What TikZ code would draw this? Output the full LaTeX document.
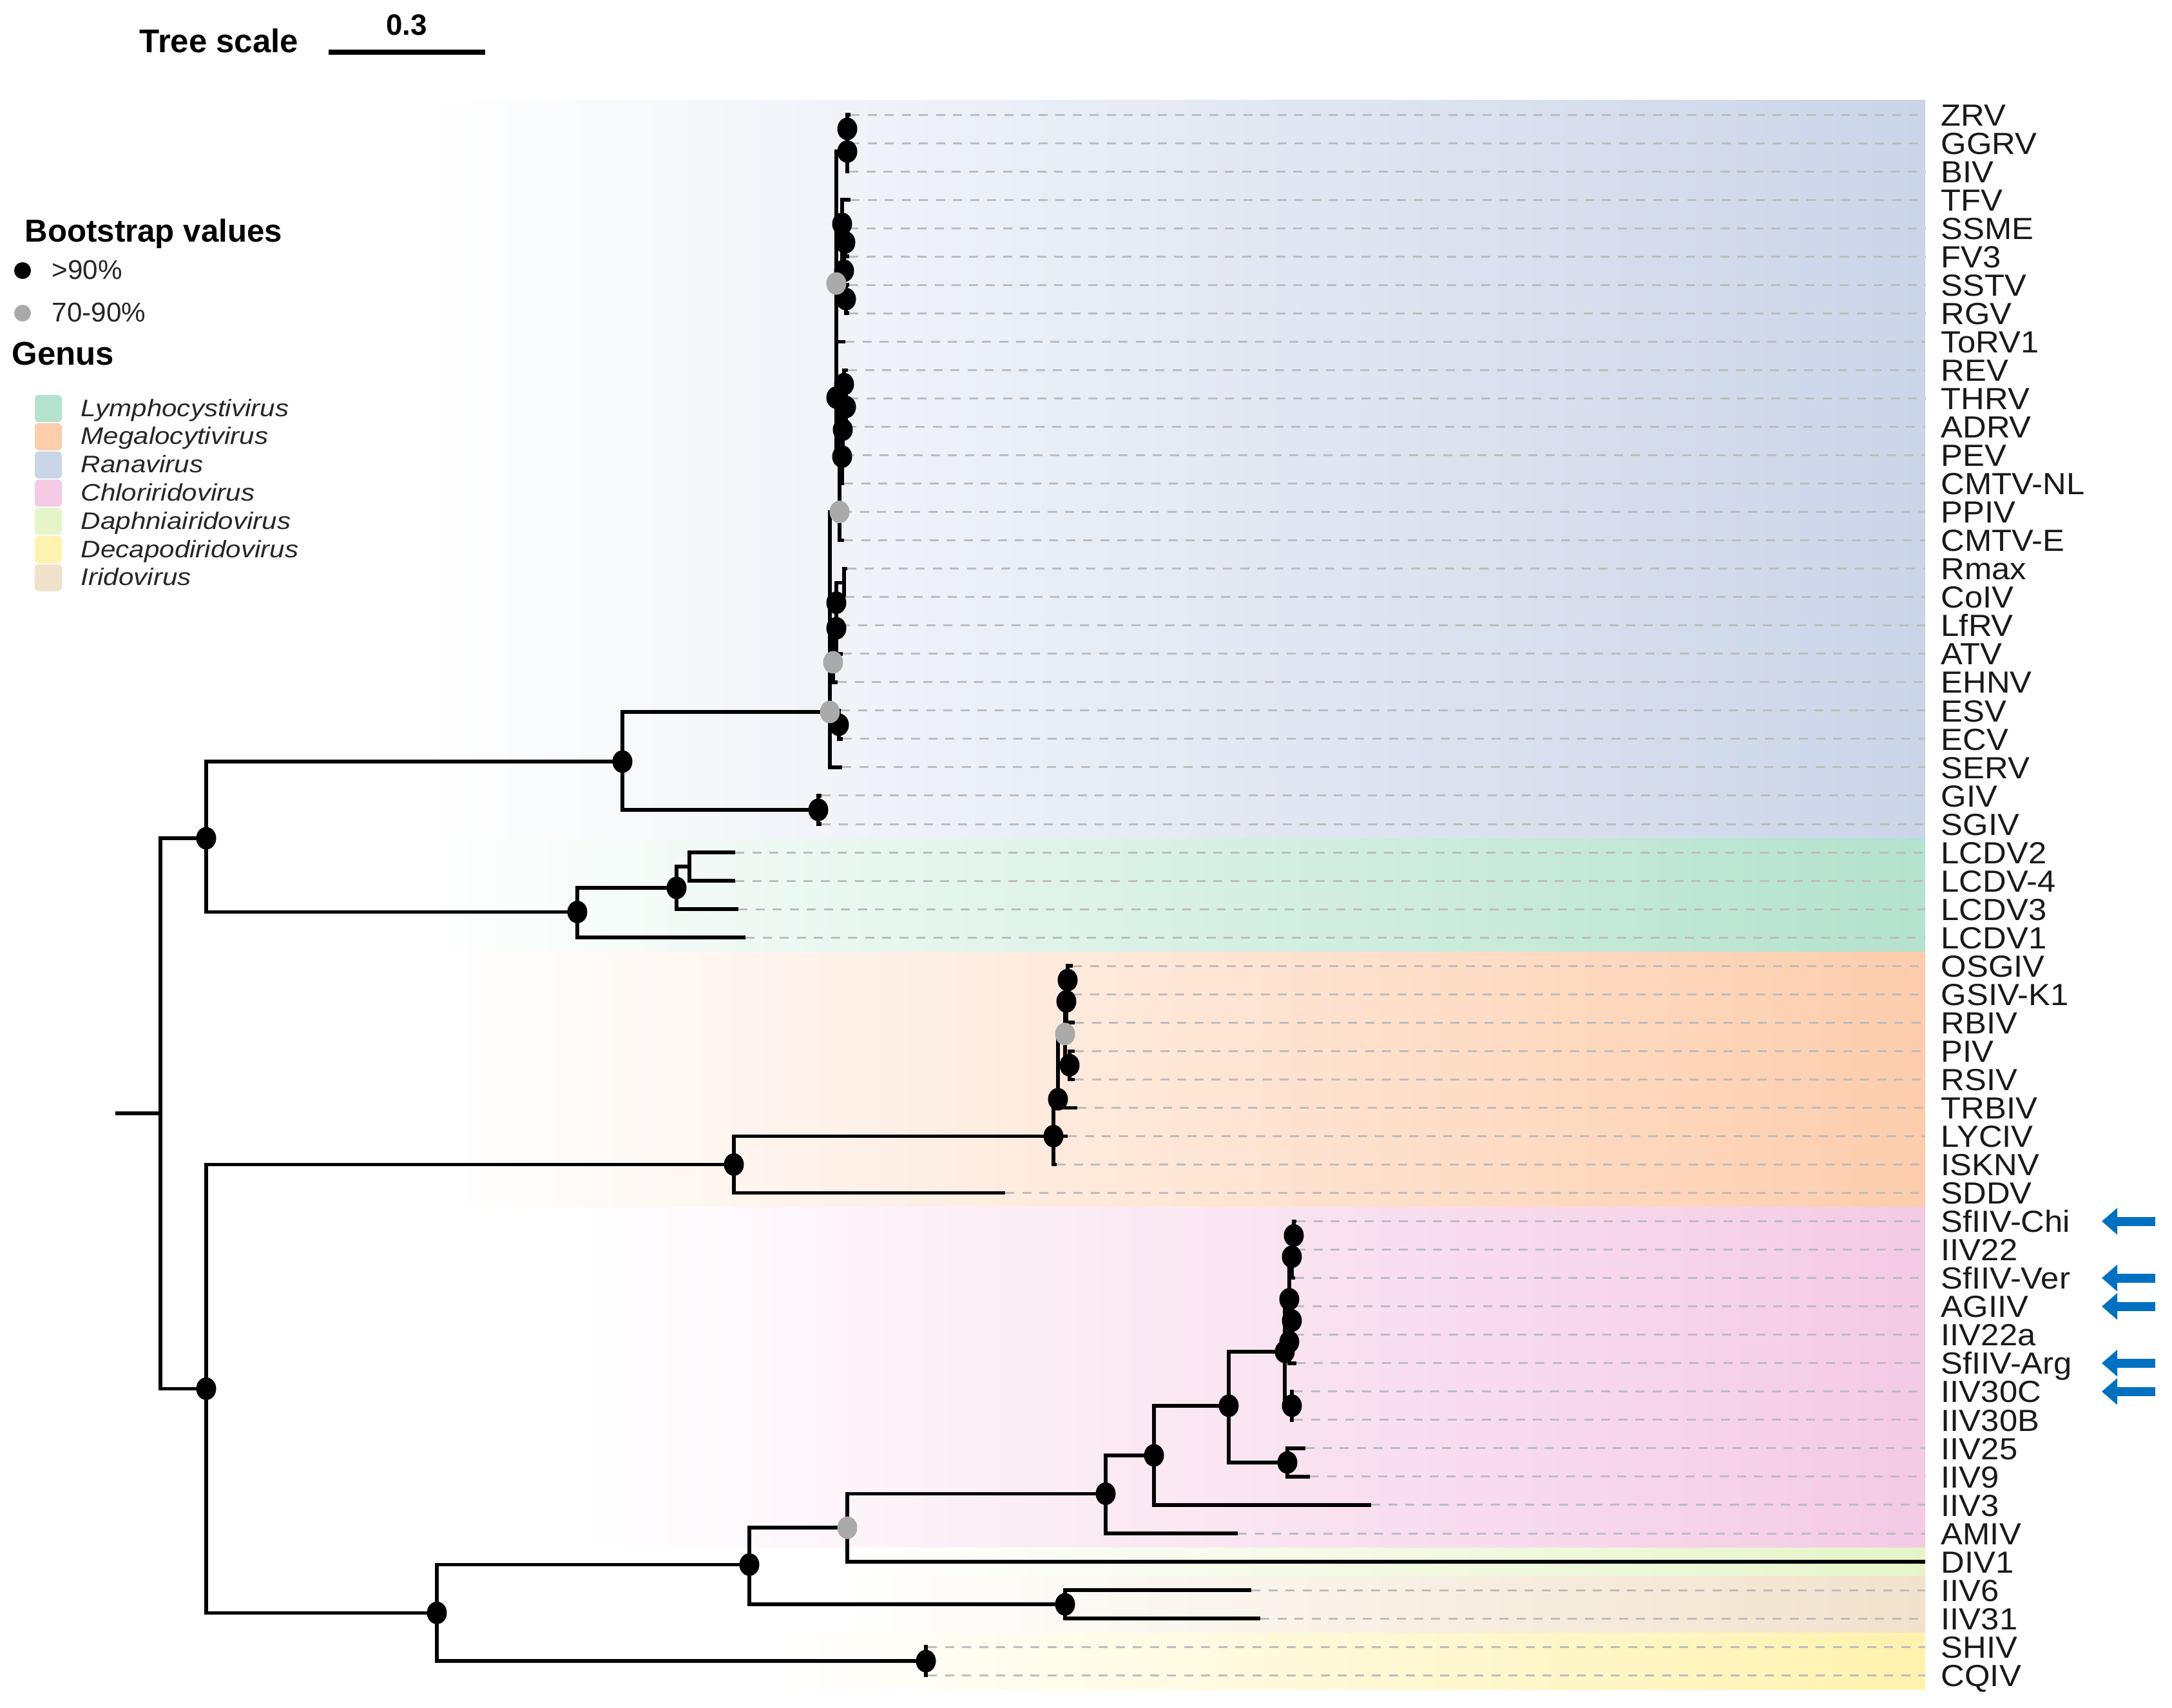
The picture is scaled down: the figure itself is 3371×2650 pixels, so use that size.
\documentclass[tikz,border=0pt]{standalone}
\usepackage{fontspec}
\setmainfont{Liberation Sans}
\usepackage{graphicx}
\usetikzlibrary{arrows.meta}

\definecolor{lymcol}{HTML}{B3E2CD}
\definecolor{megcol}{HTML}{FDCDAC}
\definecolor{rancol}{HTML}{CBD5E8}
\definecolor{chlcol}{HTML}{F4CAE4}
\definecolor{dapcol}{HTML}{E6F5C9}
\definecolor{deccol}{HTML}{FFF2AE}
\definecolor{iricol}{HTML}{F1E2CC}
\definecolor{bsgray}{HTML}{AAAAAA}
\definecolor{dashgray}{HTML}{BDBDBD}
\definecolor{markblue}{HTML}{0070C0}

\tikzset{
  branch/.style={black, line width=1.6pt},
  leafdash/.style={dashgray, line width=0.3mm, dash pattern=on 1.4mm off 1.25mm},
  leaflab/.style={anchor=base west, inner sep=0pt, font=\fontsize{13.5}{14}\selectfont, text=black!90},
  legtitle/.style={anchor=base west, inner sep=0pt, font=\bfseries\fontsize{14.5}{15}\selectfont},
  legitem/.style={anchor=base west, inner sep=0pt, font=\fontsize{12}{13}\selectfont, text=black!85},
  hibs/.style={fill=black},
  midbs/.style={fill=bsgray},
  markarrow/.style={markblue, line width=1.4mm, -{Triangle[length=2.4mm,width=4mm]}},
}

\begin{document}
\begin{tikzpicture}[x=0.1mm,y=-0.1mm]
\useasboundingbox (0,0) rectangle (3371,2650);

% tree scale
\node[legtitle] (scaletxt) at (216,81) {Tree scale};
\coordinate (barL) at (510,81);
\coordinate (barR) at (753,81);
\draw[line width=2.4pt] (barL) -- (barR);
\node[anchor=base, inner sep=0pt, font=\bfseries\fontsize{13}{14}\selectfont] (scaleval) at (631,54) {0.3};

% legend
\node[legtitle, font=\bfseries\fontsize{14}{15}\selectfont] (bstitle) at (38,375) {Bootstrap values};
\coordinate (bshi) at (35,420);
\coordinate (bsmid) at (35,486);
\fill[hibs] (bshi) circle[radius=1.3mm];
\fill[midbs] (bsmid) circle[radius=1.3mm];
\node[legitem] (bshitxt) at (80,433) {>90\%};
\node[legitem] (bsmidtxt) at (80,499) {70-90\%};
\node[legtitle] (genustitle) at (18,566) {Genus};
\foreach \col/\name [count=\k from 0] in {lymcol/Lymphocystivirus, megcol/Megalocytivirus,
    rancol/Ranavirus, chlcol/Chloriridovirus, dapcol/Daphniairidovirus,
    deccol/Decapodiridovirus, iricol/Iridovirus}{
  \pgfmathsetmacro\yc{634+43.8*\k}
  \fill[\col, rounded corners=0.6mm] (54,\yc-21) rectangle (96,\yc+21);
  \node[legitem, font=\itshape\fontsize{12}{13}\selectfont] (genus\k) at (125,\yc+12)
    {\scalebox{1}[0.88]{\name}};
}

\begin{scope}[y=-4.404mm, yshift=-17.8mm]
% genus bands
\shade[left color=white, right color=rancol] (650,-0.5) rectangle (2988,25.5);
\shade[left color=white, right color=lymcol] (650,25.5) rectangle (2988,29.5);
\shade[left color=white, right color=megcol] (700,29.5) rectangle (2988,38.5);
\shade[left color=white, right color=chlcol] (900,38.5) rectangle (2988,50.5);
\shade[left color=white, right color=dapcol] (1300,50.5) rectangle (2988,51.5);
\shade[left color=white, right color=iricol] (1300,51.5) rectangle (2988,53.5);
\shade[left color=white, right color=deccol] (1200,53.5) rectangle (2988,55.5);

% leaves
\foreach \i/\tx/\lab in {0/1320/ZRV, 1/1320/GGRV, 2/1318/BIV, 3/1320/TFV, 4/1318/SSME,
    5/1318/FV3, 6/1318/SSTV, 7/1318/RGV, 8/1312/ToRV1, 9/1316/REV, 10/1318/THRV,
    11/1315/ADRV, 12/1312/PEV, 13/1310/CMTV-NL, 14/1308/PPIV, 15/1310/CMTV-E,
    16/1315/Rmax, 17/1312/CoIV, 18/1305/LfRV, 19/1308/ATV, 20/1300/EHNV, 21/1305/ESV,
    22/1308/ECV, 23/1307/SERV, 24/1275/GIV, 25/1275/SGIV, 26/1141/LCDV2,
    27/1141/LCDV-4, 28/1146/LCDV3, 29/1157/LCDV1, 30/1665/OSGIV, 31/1665/GSIV-K1,
    32/1668/RBIV, 33/1668/PIV, 34/1668/RSIV, 35/1672/TRBIV, 36/1657/LYCIV,
    37/1640/ISKNV, 38/1560/SDDV, 39/2012/SfIIV-Chi, 40/2012/IIV22, 41/2010/SfIIV-Ver,
    42/2010/AGIIV, 43/2010/IIV22a, 44/2012/SfIIV-Arg, 45/2008/IIV30C, 46/2008/IIV30B,
    47/2026/IIV25, 48/2033/IIV9, 49/2128/IIV3, 50/1921/AMIV, 51/2988/DIV1,
    52/1942/IIV6, 53/1956/IIV31, 54/1440/SHIV, 55/1440/CQIV}{
  \coordinate (t\i) at (\tx,\i);
  \coordinate (e\i) at (2988,\i);
  \draw[leafdash] (t\i) -- (e\i);
  \node[leaflab] (lab\i) at (3012,{\i+0.39}) {\scalebox{1.07}[1]{\lab}};
}

% internal nodes
\coordinate (ra1) at (1315,0.5);
\coordinate (ra2) at (1315,1.3);
\coordinate (ra3) at (1312,4.5);
\coordinate (ra4) at (1313,6.5);
\coordinate (ra5) at (1310,5.5);
\coordinate (ra6) at (1307,3.85);
\coordinate (ra7) at (1298,5.95);
\coordinate (rb1) at (1310,9.5);
\coordinate (rb2) at (1313,10.3);
\coordinate (rb3) at (1308,11.1);
\coordinate (rb4) at (1307,12.05);
\coordinate (rc1) at (1298,9.97);
\coordinate (rc2) at (1303,14.0);
\coordinate (rd1) at (1310,16.5);
\coordinate (rd2) at (1298,17.2);
\coordinate (rd3) at (1298,18.1);
\coordinate (rd4) at (1293,19.3);
\coordinate (rd5) at (1302,21.5);
\coordinate (rcore) at (1288,21.05);
\coordinate (rgiv) at (1270,24.5);
\coordinate (rana) at (966,22.8);
\coordinate (lcd1) at (1070,26.5);
\coordinate (lcd2) at (1050,27.25);
\coordinate (lcd3) at (896,28.1);
\coordinate (upper) at (320,25.5);
\coordinate (mg1) at (1657,30.5);
\coordinate (mg2) at (1655,31.25);
\coordinate (mg3) at (1660,33.5);
\coordinate (mg4) at (1653,32.4);
\coordinate (mg5) at (1642,34.7);
\coordinate (mg6) at (1635,36.0);
\coordinate (mega) at (1139,37.0);
\coordinate (ch1) at (2008,39.5);
\coordinate (ch2) at (2005,40.25);
\coordinate (ch3) at (2005,42.5);
\coordinate (ch4) at (2001,43.25);
\coordinate (ch5) at (2001,41.75);
\coordinate (ch6) at (2005,45.5);
\coordinate (ch7) at (1994,43.6);
\coordinate (ch8) at (1998,47.5);
\coordinate (ch9) at (1907,45.5);
\coordinate (ch10) at (1791,47.25);
\coordinate (chlo) at (1716,48.6);
\coordinate (dip) at (1315,49.8);
\coordinate (iri) at (1653,52.5);
\coordinate (irid) at (1163,51.1);
\coordinate (dec) at (1437,54.5);
\coordinate (lowclade) at (678,52.8);
\coordinate (lower) at (320,44.9);
\coordinate (root) at (249,35.2);
\coordinate (stub) at (179,35.2);

% branches
\draw[branch] (stub) -- (root);
\foreach \parnode/\kid in {ra1/t0, ra1/t1, ra2/ra1, ra2/t2, ra3/t4, ra3/t5, ra4/t6, ra4/t7,
    ra5/ra3, ra5/ra4, ra6/t3, ra6/ra5, ra7/ra2, ra7/ra6, ra7/t8,
    rb1/t9, rb1/t10, rb2/rb1, rb2/t11, rb3/rb2, rb3/t12, rb4/rb3, rb4/t13,
    rc1/ra7, rc1/rb4, rc2/rc1, rc2/t14, rc2/t15,
    rd1/t16, rd1/t17, rd2/rd1, rd2/t18, rd3/rd2, rd3/t19, rd4/rd3, rd4/t20,
    rd5/t21, rd5/t22, rcore/rc2, rcore/rd4, rcore/rd5, rcore/t23,
    rgiv/t24, rgiv/t25, rana/rcore, rana/rgiv,
    lcd1/t26, lcd1/t27, lcd2/lcd1, lcd2/t28, lcd3/lcd2, lcd3/t29,
    upper/rana, upper/lcd3,
    mg1/t30, mg1/t31, mg2/mg1, mg2/t32, mg3/t33, mg3/t34, mg4/mg2, mg4/mg3,
    mg5/mg4, mg5/t35, mg6/mg5, mg6/t36, mg6/t37, mega/mg6, mega/t38,
    ch1/t39, ch1/t40, ch2/ch1, ch2/t41, ch3/t42, ch3/t43, ch4/ch3, ch4/t44,
    ch5/ch2, ch5/ch4, ch6/t45, ch6/t46, ch7/ch5, ch7/ch6, ch8/t47, ch8/t48,
    ch9/ch7, ch9/ch8, ch10/ch9, ch10/t49, chlo/ch10, chlo/t50,
    dip/chlo, dip/t51, iri/t52, iri/t53, irid/dip, irid/iri,
    dec/t54, dec/t55, lowclade/irid, lowclade/dec,
    lower/mega, lower/lowclade, root/upper, root/lower}
  \draw[branch] (\parnode) |- (\kid);

% bootstrap dots
\foreach \n in {ra1, ra2, ra3, ra4, ra5, ra6, rb1, rb2, rb3, rb4, rc1, rd2, rd3, rd5,
    rgiv, rana, lcd2, lcd3, upper, mg1, mg2, mg3, mg5, mg6, mega,
    ch1, ch2, ch3, ch4, ch5, ch6, ch7, ch8, ch9, ch10, chlo, iri, irid, dec,
    lowclade, lower}
  \fill[hibs] (\n) circle[x radius=1.55mm, y radius=1.75mm];
\foreach \n in {ra7, rc2, rd4, rcore, mg4, dip}
  \fill[midbs] (\n) circle[x radius=1.55mm, y radius=1.75mm];

% marked isolates
\foreach \i in {39,41,42,44,45}{
  \coordinate (mk\i) at (3345,\i);
  \coordinate (hd\i) at (3262,\i);
  \draw[markarrow] (mk\i) -- (hd\i);
}
\end{scope}
\end{tikzpicture}
\end{document}
